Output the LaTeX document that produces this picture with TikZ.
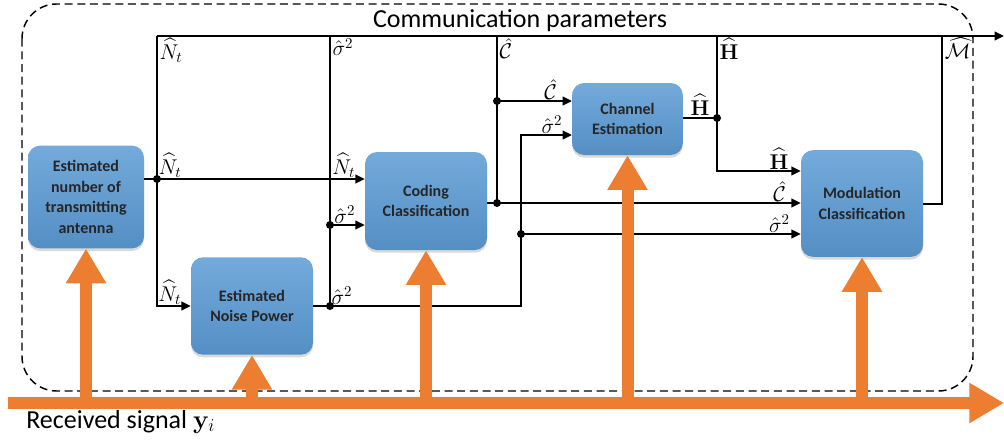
\RequirePackage{fix-cm}
\documentclass[tikz,border=0pt]{standalone}
\usepackage{amsmath}
\usepackage{amssymb}
\usepackage[no-math]{fontspec}
\setmainfont{Carlito}
\usetikzlibrary{calc, arrows.meta, positioning, shadows}

\definecolor{boxblue}{RGB}{91,155,213}
\definecolor{sigorange}{RGB}{237,125,49}

\tikzset{
  block/.style={rounded corners=9pt, top color=boxblue!85!white,
    bottom color=boxblue!92!black, text=black!85, align=center,
    font=\fontsize{12}{15.5}\selectfont\bfseries, inner sep=2pt,
    drop shadow={opacity=0.3, shadow xshift=0pt, shadow yshift=-2pt}},
  wire/.style={line width=1.5pt, black},
  arr/.style={wire, -{Triangle[length=7pt,width=6.5pt]}},
  sigarrow/.style={line width=9pt, sigorange, -{Triangle[length=26pt,width=28.5pt]}},
  lab/.style={font=\fontsize{16}{18}\selectfont, inner sep=1pt}
}

\begin{document}
\begin{tikzpicture}[x=0.75pt,y=-0.75pt]
\useasboundingbox (0,0) rectangle (1004,443);

% Frame of the communication parameters
\draw[line width=1.1pt, dash pattern=on 6pt off 3.5pt, rounded corners=26pt]
    (22,4) rectangle (973,391);
\node[font=\fontsize{19.5}{22}\selectfont] (title) at (520,21) {Communication parameters};

% Blocks
\node[block, minimum width=87pt, minimum height=77pt] (antenna) at (86,197)
    {Estimated\\number of\\transmitting\\antenna};
\node[block, minimum width=91.5pt, minimum height=73pt] (noise) at (252,306)
    {Estimated\\Noise Power};
\node[block, minimum width=91.5pt, minimum height=73.5pt] (coding) at (426,201)
    {Coding\\Classification};
\node[block, minimum width=83pt, minimum height=54pt] (channel) at (627.5,119)
    {Channel\\Estimation};
\node[block, minimum width=91.5pt, minimum height=80pt] (modul) at (862,203.5)
    {Modulation\\Classification};

% Bus and branch points
\coordinate (busL) at (157,36);
\coordinate (busR) at (1004,36);
\coordinate (sTop) at (330,36);
\coordinate (cTop) at (497,36);
\coordinate (hTop) at (717,36);
\coordinate (mTop) at (942,36);
\coordinate (jN) at (157,179);
\coordinate (jSa) at (330,225);
\coordinate (jSb) at (330,306);
\coordinate (jCa) at (497,101);
\coordinate (jCb) at (497,203);
\coordinate (jSc) at (521,234);
\coordinate (sUp) at (521,135);
\coordinate (jH) at (717,118);
\coordinate (hTurn) at (717,171);

% Parameter bus
\draw[arr] (busL) -- (busR);

% Number of antennas
\draw[wire] (antenna.east |- jN) -- (jN);
\draw[arr] (jN) -- (coding.west |- jN);
\draw[arr] (busL) |- (noise.west);

% Noise power
\draw[wire] (sTop) -- (jSb);
\draw[arr] (jSa) -- (coding.west |- jSa);
\draw[arr] (noise.east) -| (sUp) -- (channel.west |- sUp);
\draw[arr] (jSc) -- (modul.west |- jSc);

% Coding class
\draw[wire] (cTop) -- (jCb);
\draw[wire] (coding.east |- jCb) -- (jCb);
\draw[arr] (jCb) -- (modul.west |- jCb);
\draw[arr] (jCa) -- (channel.west |- jCa);

% Channel estimate
\draw[wire] (channel.east |- jH) -- (jH);
\draw[arr] (hTop) |- (modul.west |- hTurn);

% Modulation class
\draw[wire] (modul.east) -| (mTop);

% Junction dots
\foreach \j in {jN, jSa, jSb, jCa, jCb, jSc, jH}
  \fill (\j) circle[radius=3pt];

% Labels on the bus
\node[lab, below right=1pt] at (busL) {$\widehat{N}_t$};
\node[lab, below right=1pt] at (sTop) {$\hat{\sigma}^2$};
\node[lab, below right=1pt] at (cTop) {$\hat{\mathcal{C}}$};
\node[lab, below right=1pt] at (hTop) {$\widehat{\mathbf{H}}$};
\node[lab, below right=0pt and 1pt] at (mTop) {$\widehat{\mathcal{M}}$};

% Labels on the inputs
\node[lab, above right=0pt] at (jN) {$\widehat{N}_t$};
\node[lab, above left=0pt and 6pt] at (coding.west |- jN) {$\widehat{N}_t$};
\node[lab, above left=0pt and 6pt] at (coding.west |- jSa) {$\hat{\sigma}^2$};
\node[lab, above left=0pt and 6pt] at (noise.west) {$\widehat{N}_t$};
\node[lab, above right=0pt] at (jSb) {$\hat{\sigma}^2$};
\node[lab, above left=0pt and 10pt] at (channel.west |- jCa) {$\hat{\mathcal{C}}$};
\node[lab, above left=0pt and 6pt] at (channel.west |- sUp) {$\hat{\sigma}^2$};
\node[lab, above=1pt] at ($(channel.east |- jH)!0.5!(jH)$) {$\widehat{\mathbf{H}}$};
\node[lab, above left=0pt and 8pt] at (modul.west |- hTurn) {$\widehat{\mathbf{H}}$};
\node[lab, above left=0pt and 10pt] at (modul.west |- jCb) {$\hat{\mathcal{C}}$};
\node[lab, above left=0pt and 7pt] at (modul.west |- jSc) {$\hat{\sigma}^2$};

% Received signal
\coordinate (sigL) at (8,403);
\coordinate (sigR) at (1004,403);
\draw[sigarrow] (sigL) -- (sigR);
\foreach \b in {antenna, noise, coding, channel, modul}
  \draw[sigarrow] (\b.south |- sigL) -- (\b.south);
\node[anchor=base west, font=\fontsize{19.5}{22}\selectfont, inner sep=0pt] (rx) at (26,428)
    {Received signal $\mathbf{y}_i$};
\end{tikzpicture}
\end{document}
